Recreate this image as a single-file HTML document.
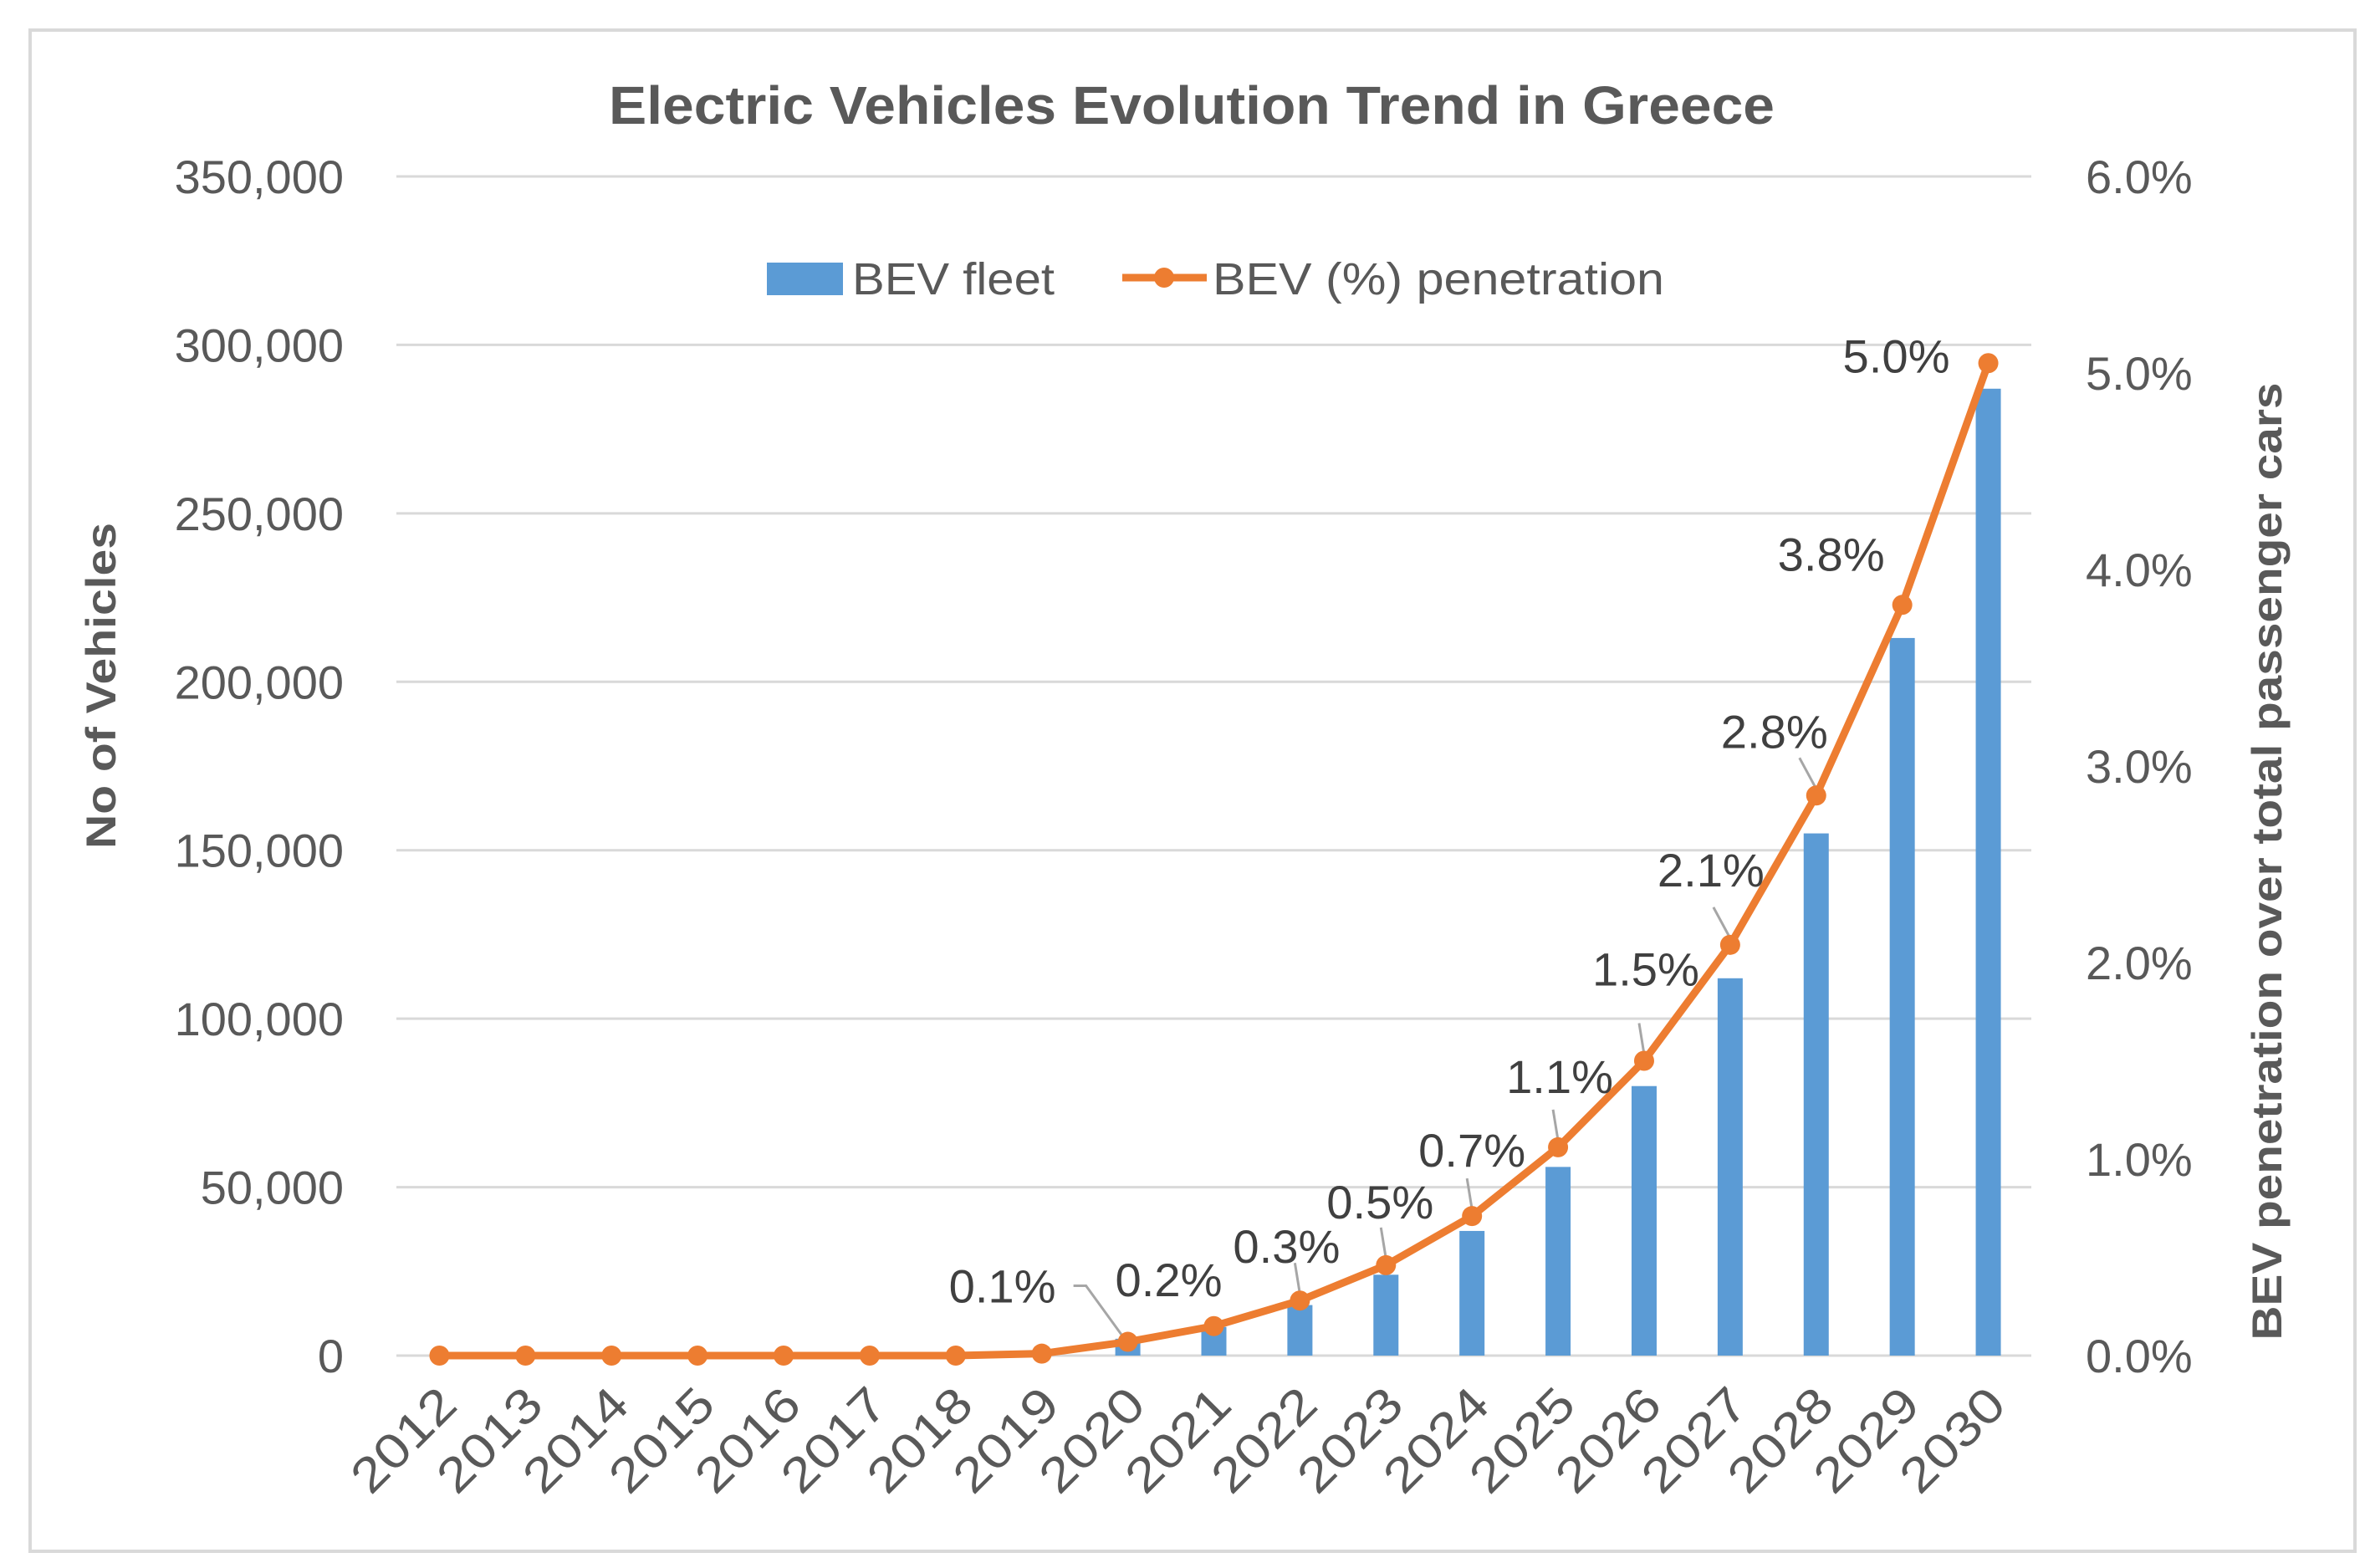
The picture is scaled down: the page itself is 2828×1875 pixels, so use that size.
<!DOCTYPE html>
<html><head><meta charset="utf-8"><style>
html,body{margin:0;padding:0;background:#fff;}
svg{display:block;}
text{font-family:"Liberation Sans",sans-serif;}
</style></head><body>
<svg id="chart" width="2828" height="1875" viewBox="0 0 2828 1875" xmlns="http://www.w3.org/2000/svg">
<rect x="36" y="36" width="2780" height="1819" fill="#fff" stroke="#d9d9d9" stroke-width="4"/>
<text x="1425" y="148" text-anchor="middle" font-size="64" font-weight="bold" fill="#595959" textLength="1394" lengthAdjust="spacingAndGlyphs">Electric Vehicles Evolution Trend in Greece</text>
<g id="grid"></g>
<g id="bars"></g>
<g id="leaders"></g>
<g id="line"></g>
<g id="labels"></g>
<g id="axes"></g>
<g>
<rect x="917" y="314" width="91" height="39" fill="#5b9bd5"/>
<text x="1019" y="352" font-size="54" fill="#595959" textLength="242" lengthAdjust="spacingAndGlyphs">BEV fleet</text>
<line x1="1342" y1="332" x2="1443" y2="332" stroke="#ed7d31" stroke-width="9"/>
<circle cx="1392" cy="332" r="12" fill="#ed7d31"/>
<text x="1450" y="352" font-size="54" fill="#595959" textLength="540" lengthAdjust="spacingAndGlyphs">BEV (%) penetration</text>
</g>
<text transform="translate(138,820) rotate(-90)" text-anchor="middle" font-size="50" font-weight="bold" fill="#595959" textLength="390" lengthAdjust="spacingAndGlyphs">No of Vehicles</text>
<text transform="translate(2728,1030) rotate(-90)" text-anchor="middle" font-size="50" font-weight="bold" fill="#595959" textLength="1145" lengthAdjust="spacingAndGlyphs">BEV penetration over total passenger cars</text>
</svg>
<script>
const years = ["2012","2013","2014","2015","2016","2017","2018","2019","2020","2021","2022","2023","2024","2025","2026","2027","2028","2029","2030"];
const fleet = [0,0,0,0,0,0,0,1000,5000,8500,15000,24000,37000,56000,80000,112000,155000,213000,287000];
const penetration = [0,0,0,0,0,0,0,0.01,0.07,0.15,0.28,0.46,0.71,1.06,1.5,2.09,2.85,3.82,5.05];
const pctLabels = ["","","","","","","","","0.1%","0.2%","0.3%","0.5%","0.7%","1.1%","1.5%","2.1%","2.8%","3.8%","5.0%"];
const leftTicks = [0,50000,100000,150000,200000,250000,300000,350000];
const rightTicks = [0,1,2,3,4,5,6];

const NS="http://www.w3.org/2000/svg";
const X0=474,X1=2429,Y0=1621,Y1=211;
const step=(X1-X0)/years.length;
const xc=i=>X0+step*(i+0.5);
const yL=v=>Y0-(v/350000)*(Y0-Y1);
const yR=v=>Y0-(v/6)*(Y0-Y1);
function mk(tag,attrs,parent,txt){const e=document.createElementNS(NS,tag);for(const k in attrs)e.setAttribute(k,attrs[k]);if(txt!==undefined)e.textContent=txt;parent.appendChild(e);return e;}
const grid=document.getElementById('grid'),bars=document.getElementById('bars'),line=document.getElementById('line'),labels=document.getElementById('labels'),axes=document.getElementById('axes'),leaders=document.getElementById('leaders');

leftTicks.forEach(t=>{
  const g=mk('line',{x1:X0,x2:X1,y1:yL(t),y2:yL(t),stroke:'#d9d9d9','stroke-width':3},grid);
  
  
  const tx=mk('text',{x:411,y:yL(t)+20,'text-anchor':'end','font-size':56,fill:'#595959'},axes,t.toLocaleString('en-US'));
  
  
});
rightTicks.forEach(t=>{
  const tx=mk('text',{x:2494,y:yR(t)+20,'font-size':56,fill:'#595959'},axes,t.toFixed(1)+'%');
  
  
});
years.forEach((y,i)=>{
  const cx=xc(i);
  const tx=mk('text',{transform:`translate(${cx+24},${Y0+62}) rotate(-45)`,'text-anchor':'end','font-size':58,fill:'#595959',textLength:150,lengthAdjust:'spacingAndGlyphs'},axes,y);
  
  
  if(fleet[i]>0){
    const b=mk('rect',{x:cx-15,y:yL(fleet[i]),width:30,height:Y0-yL(fleet[i]),fill:'#5b9bd5'},bars);
    
    
  }
});
const pts=penetration.map((v,i)=>[xc(i),yR(v)]);
const pl=mk('polyline',{points:pts.map(p=>p.join(',')).join(' '),fill:'none',stroke:'#ed7d31','stroke-width':9,'stroke-linejoin':'round'},line);


pts.forEach((p,i)=>{
  const c=mk('circle',{cx:p[0],cy:p[1],r:12,fill:'#ed7d31'},line);
  
  
});
// label offsets relative to point (layout only)
const offs={8:[-150,-67],9:[-54,-56],10:[-16,-65],11:[-7,-76],12:[0,-79],13:[2,-85],14:[2,-110],15:[-23,-90],16:[-50,-77],17:[-85,-61],18:[-110,-9]};
pctLabels.forEach((l,i)=>{
  if(!l)return;
  const o=offs[i];const p=pts[i];
  const t=mk('text',{x:p[0]+o[0],y:p[1]+o[1]+20,'text-anchor':'middle','font-size':56,fill:'#404040',textLength:128,lengthAdjust:'spacingAndGlyphs'},labels,l);
  
  
});
// leader line for the 2020 label
{
  const p=pts[8];
  const ld=mk('polyline',{points:`${p[0]-65},${p[1]-67} ${p[0]-50},${p[1]-67} ${p[0]-5},${p[1]-5}`,fill:'none',stroke:'#a6a6a6','stroke-width':3},leaders);
  
  
}
[10,11,12,13,14,15,16].forEach(i=>{
  const p=pts[i];
  const ld=mk('line',{x1:p[0]-(i>=15?20:6),y1:p[1]-45,x2:p[0],y2:p[1]-8,stroke:'#a6a6a6','stroke-width':3},leaders);
  
  
});
</script>
</body></html>
